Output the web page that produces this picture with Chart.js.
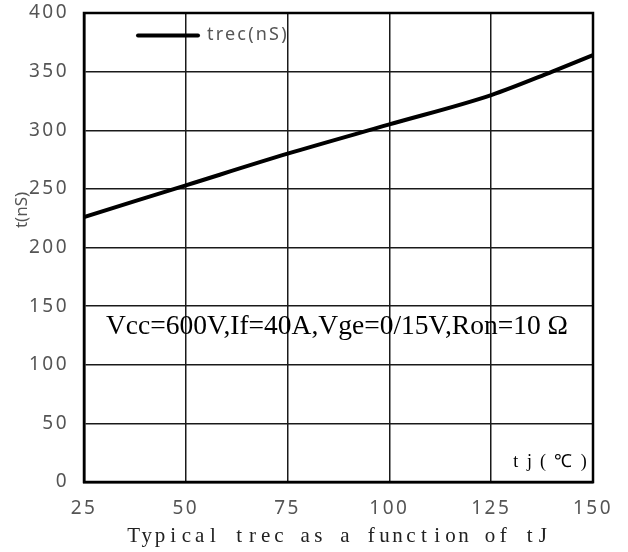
<!DOCTYPE html>
<html>
<head>
<meta charset="utf-8">
<script src="https://cdn.jsdelivr.net/npm/chart.js@4"></script>
<style>
  html, body { margin: 0; padding: 0; background: #fff; }
  #wrap { width: 628px; height: 552px; }
</style>
</head>
<body>
<div id="wrap"><canvas id="trecChart" width="628" height="552"></canvas></div>
<script>
// Dados
const tjValues = [25, 50, 75, 100, 125, 140, 150];
const trecValues = [226, 253, 280, 305, 330, 350, 364];
const xTicks = [25, 50, 75, 100, 125, 150];
const yTicks = [0, 50, 100, 150, 200, 250, 300, 350, 400];
const seriesLabel = 'trec(nS)';
const noteText = 'Vcc=600V,If=40A,Vge=0/15V,Ron=10 \u03A9';
const xTitle = 'Typical trec as a function of tJ';
const yTitle = 't(nS)';
const unitText = 'tj(\u2103)';

const gray = '#555';
const sans = '"Noto Sans", "DejaVu Sans", sans-serif';

// espaçamento de letras só para os rótulos dos eixos
const tickSpacing = {
    id: 'tickSpacing',
    beforeDraw(chart) { chart.ctx.letterSpacing = '2.5px'; },
    beforeDatasetsDraw(chart) { chart.ctx.letterSpacing = '0px'; }
};

// texto em "grade" de largura fixa (imita fonte monoespaçada serifada)
function drawPitched(ctx, text, left, baseline, pitch) {
    let x = left;
    for (const ch of text) {
        const w = ch === '\u2103' ? pitch * 2 : pitch;
        ctx.fillText(ch, x + w / 2, baseline);
        x += w;
    }
}

const extras = {
    id: 'extras',
    afterDraw(chart) {
        const { ctx, chartArea: a } = chart;
        ctx.save();
        ctx.letterSpacing = '0px';

        // moldura
        ctx.strokeStyle = '#000';
        ctx.lineWidth = 2.5;
        ctx.strokeRect(a.left, a.top, a.right - a.left, a.bottom - a.top);

        // legenda dentro do gráfico
        ctx.strokeStyle = '#000';
        ctx.lineWidth = 4;
        ctx.lineCap = 'round';
        ctx.beginPath();
        ctx.moveTo(a.left + 54, a.top + 22.5);
        ctx.lineTo(a.left + 114, a.top + 22.5);
        ctx.stroke();
        ctx.fillStyle = gray;
        ctx.font = '18px ' + sans;
        ctx.letterSpacing = '2.2px';
        ctx.textAlign = 'left';
        ctx.textBaseline = 'middle';
        ctx.fillText(chart.data.datasets[0].label, a.left + 123, a.top + 22);
        ctx.letterSpacing = '0px';

        // condições de teste
        ctx.fillStyle = '#000';
        ctx.font = '28px "Liberation Serif"';
        ctx.textBaseline = 'alphabetic';
        ctx.fillText(noteText, 106, 334, 462);

        // unidade tj
        ctx.font = '18px "Liberation Serif"';
        ctx.textAlign = 'center';
        drawPitched(ctx, unitText, 509, 467, 13.6);

        // título do eixo x
        ctx.fillStyle = '#222';
        ctx.font = '21px "Liberation Serif"';
        drawPitched(ctx, xTitle, 127, 542, 13.2);

        // título do eixo y
        ctx.fillStyle = gray;
        ctx.font = '17px ' + sans;
        ctx.translate(22, 210);
        ctx.rotate(-Math.PI / 2);
        ctx.textBaseline = 'middle';
        ctx.fillText(yTitle, 0, 0);
        ctx.restore();
    }
};

new Chart(document.getElementById('trecChart'), {
    type: 'line',
    data: {
        datasets: [{
            label: seriesLabel,
            data: tjValues.map((x, i) => ({ x, y: trecValues[i] })),
            borderColor: '#000',
            borderWidth: 4,
            pointRadius: 0,
            cubicInterpolationMode: 'monotone',
            fill: false
        }]
    },
    options: {
        responsive: false,
        animation: false,
        devicePixelRatio: 1,
        layout: { padding: { top: 13, right: 35, left: 0, bottom: 0 } },
        plugins: { legend: { display: false }, tooltip: { enabled: false } },
        scales: {
            x: {
                type: 'linear',
                min: 25, max: 150,
                afterFit(s) { s.height = 70; s.paddingLeft = 0; s.paddingRight = 0; },
                afterBuildTicks(s) { s.ticks = xTicks.map(v => ({ value: v })); },
                grid: { color: '#1a1a1a', lineWidth: 1.5, drawTicks: false },
                border: { color: '#000', width: 2.5 },
                ticks: { color: gray, padding: 15, font: { family: sans, size: 19 } }
            },
            y: {
                min: 0, max: 400,
                afterFit(s) { s.width = 84; s.paddingTop = 0; s.paddingBottom = 0; },
                afterBuildTicks(s) { s.ticks = yTicks.map(v => ({ value: v })); },
                grid: { color: '#1a1a1a', lineWidth: 1.5, drawTicks: false },
                border: { color: '#000', width: 2.5 },
                ticks: { color: gray, padding: 15, font: { family: sans, size: 19 } }
            }
        }
    },
    plugins: [tickSpacing, extras]
});
</script>
</body>
</html>
